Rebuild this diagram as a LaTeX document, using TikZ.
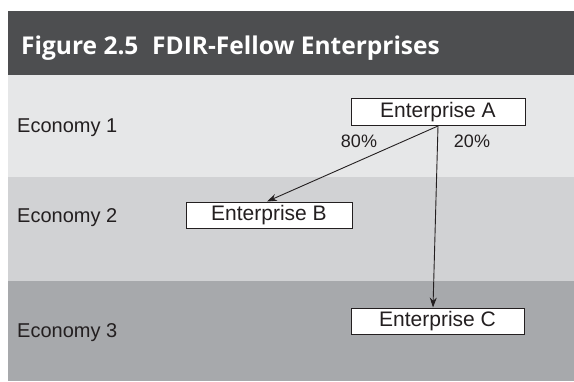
\documentclass[tikz,border=0pt]{standalone}
\usepackage{fontspec}
\setmainfont{Liberation Sans}
\newfontfamily\titlefont{Open Sans}
\usetikzlibrary{arrows.meta}
\usetikzlibrary{positioning}

\definecolor{ink}{HTML}{231F20}
\definecolor{headgray}{HTML}{4D4E50}
\definecolor{bandone}{HTML}{E6E7E8}
\definecolor{bandtwo}{HTML}{D1D2D4}
\definecolor{bandthree}{HTML}{A7A9AC}

\tikzset{
  firm/.style={draw=ink, fill=white, line width=1pt, text=ink, inner sep=0pt,
    minimum height=27pt, font=\fontsize{21}{24}\selectfont},
  economy/.style={anchor=base west, text=ink, inner sep=0pt,
    font=\fontsize{20}{24}\selectfont},
  pct/.style={text=ink, inner sep=0pt, font=\fontsize{18}{22}\selectfont},
  flow/.style={draw=ink, line width=0.9pt, -{Stealth[length=10pt,width=7pt]}}
}

\begin{document}
\begin{tikzpicture}[x=1pt, y=-1pt]
        \useasboundingbox (0,0) rectangle (574,381);

        % bands
        \fill[headgray] (8,11) rectangle (574,75);
        \fill[bandone] (8,75) rectangle (574,177);
        \fill[bandtwo] (8,177) rectangle (574,281);
        \fill[bandthree] (8,281) rectangle (574,381);

        \node[anchor=base west, inner sep=0pt, text=white,
          font=\titlefont\bfseries\fontsize{24.5}{30}\selectfont] (title) at (21,54)
          {Figure 2.5\hspace{0.3em} FDIR-Fellow Enterprises};

        \node[economy] (eco1) at (17,132) {Economy 1};
        \node[economy] (eco2) at (17,222) {Economy 2};
        \node[economy] (eco3) at (17,337) {Economy 3};

        \node[firm, minimum width=174pt] (entA) at (438,112) {Enterprise A};
        \node[firm, minimum width=166pt, minimum height=26pt] (entB) at (269,215) {Enterprise B};
        \node[firm, minimum width=173pt, minimum height=26pt] (entC) at (437.5,321) {Enterprise C};

        \node[pct] (pctB) at (359,141) {80\%};
        \node[pct] (pctC) at (472,141) {20\%};

        \draw[flow] (entA.south) -- ([xshift=-2pt]entB.north);
        \draw[flow] (entA.south) -- ([xshift=-4.5pt]entC.north);
      \end{tikzpicture}
\end{document}
